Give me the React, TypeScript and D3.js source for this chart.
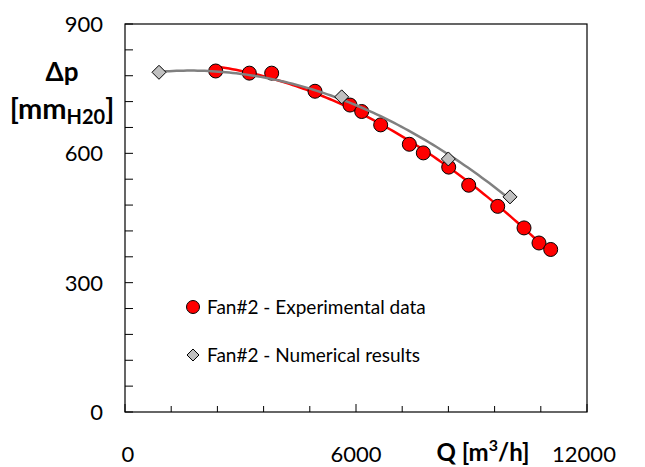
import React from 'react';
import * as d3 from 'd3';

const expQ = [2356, 3229, 3810, 4935, 5844, 6148, 6641, 7385, 7748, 8408, 8927, 9681, 10364, 10753, 11057];
const expDp = [791, 786, 786, 744, 712, 697, 666, 621, 601, 568, 526, 477, 427, 392, 377];
const numQ = [883, 5628, 8398, 10000];
const numDp = [788, 731, 587, 499];
const xTickLabels = [0, 6000, 12000];
const yTickLabels = [0, 300, 600, 900];
const legendLabels = ['Fan#2 - Experimental data', 'Fan#2 - Numerical results'];

const W = 645, H = 467;
const M = { left: 125, right: 58, top: 24, bottom: 55 };
const FONT = 'Lato, "Open Sans", sans-serif';

function quadFit(xs: number[], ys: number[]) {
  const s = xs.map(v => v / 1000);
  let S = [0, 0, 0, 0, 0], T = [0, 0, 0];
  s.forEach((x, i) => {
    for (let k = 0; k < 5; k++) S[k] += Math.pow(x, k);
    for (let k = 0; k < 3; k++) T[k] += Math.pow(x, k) * ys[i];
  });
  const A = [[S[0], S[1], S[2], T[0]], [S[1], S[2], S[3], T[1]], [S[2], S[3], S[4], T[2]]];
  for (let c = 0; c < 3; c++) {
    for (let r = c + 1; r < 3; r++) {
      const f = A[r][c] / A[c][c];
      for (let k = c; k < 4; k++) A[r][k] -= f * A[c][k];
    }
  }
  const co = [0, 0, 0];
  for (let r = 2; r >= 0; r--) {
    let v = A[r][3];
    for (let k = r + 1; k < 3; k++) v -= A[r][k] * co[k];
    co[r] = v / A[r][r];
  }
  return (x: number) => { const t = x / 1000; return co[0] + co[1] * t + co[2] * t * t; };
}

export default function App() {
  const x = d3.scaleLinear().domain([0, 12000]).range([M.left, W - M.right]);
  const y = d3.scaleLinear().domain([0, 900]).range([H - M.bottom, M.top]);
  const line = d3.line<[number, number]>().x(d => x(d[0])).y(d => y(d[1]));

  const trend = (xs: number[], ys: number[]) => {
    const f = quadFit(xs, ys);
    const [a, b] = d3.extent(xs) as [number, number];
    const pts: [number, number][] = d3.range(0, 101).map(i => { const q = a + (b - a) * i / 100; return [q, f(q)]; });
    return line(pts) || '';
  };

  const xMinor = d3.range(0, 12001, 1200);
  const yMinor = d3.range(0, 901, 60);
  const x0 = M.left, x1 = W - M.right, y0 = H - M.bottom, y1 = M.top;
  const diamond = (cx: number, cy: number, r: number) => `M${cx},${cy - r}L${cx + r},${cy}L${cx},${cy + r}L${cx - r},${cy}Z`;

  return (
    <svg width={W} height={H} style={{ position: 'absolute', left: 0, top: 0, background: '#fff' }} fontFamily={FONT}>
      <rect x={0} y={0} width={W} height={H} fill="#fff" />
      <rect x={x0} y={y1} width={x1 - x0} height={y0 - y1} fill="none" stroke="#000" strokeWidth={1.2} />
      {yMinor.map(v => (
        <line key={'yt' + v} x1={x0} x2={x0 + 8} y1={y(v)} y2={y(v)} stroke="#000" strokeWidth={1} />
      ))}
      {xMinor.map(v => (
        <line key={'xt' + v} x1={x(v)} x2={x(v)} y1={y0} y2={y0 - (v % 6000 === 0 ? 8 : 6)} stroke="#000" strokeWidth={1} />
      ))}
      {yTickLabels.map(v => (
        <text key={'yl' + v} x={103} y={y(v)} dy="0.36em" textAnchor="end" fontSize={22} fill="#000">{v}</text>
      ))}
      {xTickLabels.map(v => (
        <text key={'xl' + v} x={x(v) + (v === 0 ? 3 : v === 12000 ? -3 : 0)} y={462} textAnchor="middle" fontSize={22} fill="#000">{v}</text>
      ))}
      <text x={62} y={81} textAnchor="middle" fontSize={26} fontWeight="bold">Δp</text>
      <text x={62} y={119} textAnchor="middle" fontSize={29} fontWeight="bold">
        [mm<tspan fontSize={20} dy={5}>H20</tspan><tspan dy={-5}>]</tspan>
      </text>
      <text x={483} y={461} textAnchor="middle" fontSize={24} fontWeight="bold">
        Q [m<tspan fontSize={16} dy={-10}>3</tspan><tspan dy={10}>/h]</tspan>
      </text>

      <path d={trend(expQ, expDp)} fill="none" stroke="#ff0000" strokeWidth={2.5} />
      {expQ.map((q, i) => (
        <circle key={'c' + i} cx={x(q)} cy={y(expDp[i])} r={7} fill="#ff0000" stroke="#000" strokeWidth={1} />
      ))}
      <path d={trend(numQ, numDp)} fill="none" stroke="#808080" strokeWidth={2.5} />
      {numQ.map((q, i) => (
        <path key={'d' + i} d={diamond(x(q), y(numDp[i]), 7)} fill="#c0c0c0" stroke="#000" strokeWidth={1} />
      ))}

      <circle cx={193} cy={307} r={6.5} fill="#ff0000" stroke="#000" strokeWidth={1} />
      <text x={207} y={307} dy="0.36em" fontSize={19}>{legendLabels[0]}</text>
      <path d={diamond(193, 355, 6)} fill="#c0c0c0" stroke="#000" strokeWidth={1} />
      <text x={207} y={355} dy="0.36em" fontSize={19}>{legendLabels[1]}</text>
    </svg>
  );
}
